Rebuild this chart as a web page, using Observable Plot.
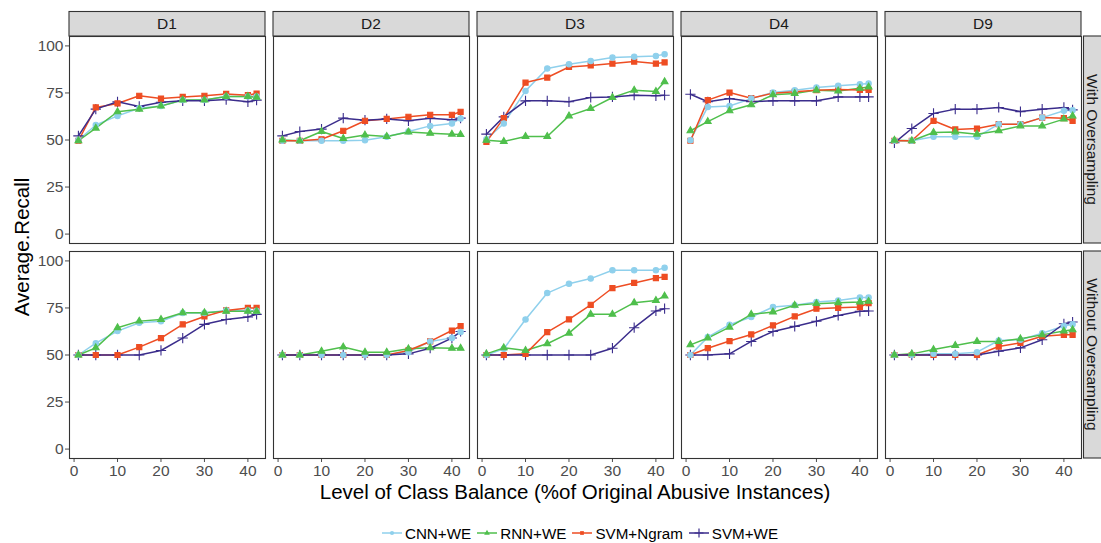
<!DOCTYPE html>
<html><head><meta charset="utf-8">
<script src="https://cdn.jsdelivr.net/npm/d3@7"></script>
<script src="https://cdn.jsdelivr.net/npm/@observablehq/plot@0.6"></script>
<style>
body{margin:0;background:#fff;font-family:"Liberation Sans",Arial,Helvetica,sans-serif}
#wrap{position:relative;width:1101px;height:543px;overflow:hidden}
#ylab{position:absolute;left:22px;top:247px;transform:translate(-50%,-50%) rotate(-90deg);font-size:20.5px;color:#000;white-space:nowrap}
#xlab{position:absolute;left:575px;top:492px;transform:translate(-50%,-50%);font-size:20.5px;color:#000;white-space:nowrap}
#legend{position:absolute;left:59px;width:1042px;top:522px;height:22px;display:flex;justify-content:center;align-items:center;font-size:15.2px;color:#000}
#legend .item{display:flex;align-items:center;margin:0 3px}
#legend svg{margin-right:3px}
</style></head><body>
<div id="wrap"><div id="ylab">Average.Recall</div><div id="xlab">Level of Class Balance (%of Original Abusive Instances)</div><div id="legend"></div></div>
<script>
// ---- data ----
const datasets = ["D1", "D2", "D3", "D4", "D9"];
const conditions = ["With Oversampling", "Without Oversampling"];
const models = ["CNN+WE", "RNN+WE", "SVM+Ngram", "SVM+WE"];
const balanceLevels = [1, 5, 10, 15, 20, 25, 30, 35, 40, 42];
const xTicks = [0, 10, 20, 30, 40];
const yTicks = [0, 25, 50, 75, 100];
const colors = ["#8fd0ec", "#4fbf4c", "#ee4d23", "#3b2d8c"];
const symbols = ["circle", "triangle", "square", "plus"];
const markerRadii = [2.7, 2.5, 2.9, 3.4];

// With Oversampling: rows = CNN+WE, RNN+WE, SVM+Ngram, SVM+WE
const withD1 = [
  [50, 58, 62.8, 66.9, 68.1, 71.2, 71.2, 73.1, 73.1, 73.1],
  [49.6, 56.3, 65, 66.4, 68.1, 71.2, 71.2, 73.1, 73.1, 72.7],
  [49.6, 67.3, 69.4, 73.5, 72, 72.9, 73.5, 74.5, 73.8, 74.7],
  [52.2, 66.4, 70.3, 67.8, 70.1, 70.8, 70.8, 71.5, 70.3, 71.2]];
const withD2 = [
  [49.6, 49.6, 49.6, 49.6, 49.9, 51.7, 54.5, 57.5, 58.8, 61.4],
  [50, 49.6, 54.5, 50.8, 52.6, 51.9, 54.3, 53.6, 53.1, 52.9],
  [49.6, 49.6, 50.4, 54.9, 60.2, 61.2, 62.3, 63.4, 63.4, 65],
  [52.2, 54.5, 55.8, 61.6, 60.5, 61.2, 60.2, 61.6, 60.7, 61.6]];
const withD3 = [
  [50.4, 58.8, 76.1, 88, 90.3, 92, 93.8, 94.3, 94.7, 95.6],
  [49.9, 49.2, 51.9, 51.9, 62.8, 66.7, 72.6, 76.5, 75.8, 81],
  [49, 61.6, 80.5, 83.2, 88.8, 89.6, 90.6, 91.7, 90.6, 91.2],
  [53.1, 62.3, 70.8, 70.8, 70.3, 72.6, 72.9, 73.8, 73.5, 73.8]];
const withD4 = [
  [49.9, 67.6, 68.1, 72, 75.2, 76.5, 77.9, 78.8, 79.6, 80],
  [54.9, 59.8, 65.5, 68.7, 74, 74.7, 76.5, 76.1, 77.5, 78.2],
  [49.6, 71.2, 75.2, 72.2, 74.9, 75.6, 76.5, 76.8, 76.6, 76.6],
  [74.3, 70.3, 72, 70.4, 70.8, 70.8, 70.8, 72.9, 72.9, 72.9]];
const withD9 = [
  [49.6, 49.6, 51.7, 51.7, 51.7, 58.4, 58.4, 61.9, 65.5, 65.8],
  [49.9, 49.6, 54, 54.3, 53.1, 54.9, 57.5, 57.5, 61.1, 62.8],
  [49.6, 49.6, 60.2, 55.6, 56.1, 58.4, 58.4, 61.9, 61.6, 60.2],
  [48.5, 56.1, 64.1, 66.4, 66.4, 67.3, 65.1, 66.4, 67.3, 66]];

// Without Oversampling
const withoutD1 = [
  [50, 56.3, 62.7, 67.1, 67.9, 72.3, 72.3, 73.7, 73.7, 73.4],
  [50, 53.8, 64.5, 68, 68.9, 72.5, 72.5, 73.2, 73.2, 73.2],
  [50, 50, 50, 54.2, 59, 66.3, 70.5, 73.7, 75, 75],
  [50, 50, 50, 50, 52.4, 59, 66.3, 68.9, 70.2, 71.6]];
const withoutD2 = [
  [50, 50, 50, 50, 50, 50, 51.5, 57.2, 59.1, 62.2],
  [50, 50, 52, 54.2, 51.5, 51.5, 53.3, 53.8, 53.6, 53.6],
  [50, 50, 50, 50, 50, 50, 52.4, 57.2, 63, 65.4],
  [50, 50, 50, 50, 50, 50, 50.6, 53.6, 59, 62.5]];
const withoutD3 = [
  [50, 53.3, 68.9, 82.9, 87.9, 90.6, 95, 95, 95, 96.3],
  [50.6, 53.8, 52.4, 56, 61.6, 71.6, 71.6, 77.8, 79, 81.3],
  [50, 50, 50.6, 62.2, 68.9, 76.7, 85.6, 88.3, 90.9, 91.5],
  [50, 50, 50, 50, 50, 50, 53.6, 64.5, 73.4, 74.6]];
const withoutD4 = [
  [50, 59.5, 66.1, 70.2, 75.5, 76.4, 78.2, 79, 80.5, 80.5],
  [55.4, 59, 64.8, 71.6, 72.8, 76.4, 77.3, 77.8, 78.2, 78.5],
  [50, 53.6, 57.4, 60.9, 65.7, 70.5, 74.6, 75.1, 75.5, 77.6],
  [50, 50, 50.6, 57.2, 62.5, 65.2, 67.9, 71, 73.2, 73.4]];
const withoutD9 = [
  [50, 50, 50.6, 50.6, 51.5, 57.7, 58.1, 61.6, 65.4, 66.3],
  [50, 50.6, 52.9, 55.1, 57.2, 57.2, 58.6, 60.7, 62.7, 63.4],
  [50, 50, 50, 50, 50, 54.5, 56.5, 60, 60.7, 60.7],
  [50, 50, 50, 50, 50, 52, 53.8, 58.1, 66.6, 67.5]];

const panels = [
  ["D1", conditions[0], withD1], ["D2", conditions[0], withD2], ["D3", conditions[0], withD3],
  ["D4", conditions[0], withD4], ["D9", conditions[0], withD9],
  ["D1", conditions[1], withoutD1], ["D2", conditions[1], withoutD2], ["D3", conditions[1], withoutD3],
  ["D4", conditions[1], withoutD4], ["D9", conditions[1], withoutD9]];

const rows = [];
for (const [ds, cond, series] of panels)
  series.forEach((vals, mi) => vals.forEach((v, i) =>
    rows.push({dataset: ds, condition: cond, model: models[mi], balance: balanceLevels[i], recall: v, size: markerRadii[mi]})));

// ---- plot ----
const W = 1101, H = 482, mTop = 36, mLeft = 68, mRight = 18.5, mBottom = 24;
const plot = Plot.plot({
  width: W, height: H,
  marginTop: mTop, marginLeft: mLeft, marginRight: mRight, marginBottom: mBottom,
  style: {fontFamily: '"Liberation Sans", Arial, sans-serif', fontSize: "15.5px", color: "#4d4d4d", background: "#fff", overflow: "visible"},
  fx: {domain: datasets, paddingInner: 0.037, paddingOuter: 0, axis: null, label: null},
  fy: {domain: conditions, paddingInner: 0.038, paddingOuter: 0, axis: null, label: null},
  x: {domain: [-1.05, 44.05], ticks: xTicks, tickSize: 4, tickPadding: 2, label: null},
  y: {domain: [-5, 105], ticks: yTicks, tickSize: 4, tickPadding: 2, label: null},
  r: {type: "identity"},
  color: {domain: models, range: colors},
  symbol: {domain: models, range: symbols},
  marks: [
    Plot.line(rows, {x: "balance", y: "recall", fx: "dataset", fy: "condition", z: "model", stroke: "model", strokeWidth: 1.5}),
    Plot.dot(rows, {x: "balance", y: "recall", fx: "dataset", fy: "condition", symbol: "model", fill: "model", stroke: "model", strokeWidth: 1.1, r: "size"}),
    Plot.frame({stroke: "#333", strokeWidth: 1.1})
  ]
});
document.getElementById("wrap").prepend(plot);

// ---- strips drawn from facet scales ----
const svg = d3.select(plot);
const fx = plot.scale("fx"), fy = plot.scale("fy");
const stripH = 24.5;
const g = svg.append("g");
for (const d of datasets) {
  const x0 = fx.apply(d), bw = fx.bandwidth;
  g.append("rect").attr("x", x0).attr("y", mTop - stripH).attr("width", bw).attr("height", stripH)
    .attr("fill", "#d9d9d9").attr("stroke", "#333").attr("stroke-width", 1.1);
  g.append("text").attr("x", x0 + bw / 2).attr("y", mTop - stripH / 2).attr("dy", "0.35em")
    .attr("text-anchor", "middle").attr("fill", "#1a1a1a").attr("font-size", 15.5).text(d);
}
for (const c of conditions) {
  const y0 = fy.apply(c), bh = fy.bandwidth;
  const x0 = W - mRight + 1;
  g.append("rect").attr("x", x0).attr("y", y0).attr("width", mRight + 2).attr("height", bh)
    .attr("fill", "#d9d9d9").attr("stroke", "#333").attr("stroke-width", 1.1);
  g.append("text").attr("transform", `translate(${x0 + (W - x0) / 2},${y0 + bh / 2}) rotate(90)`)
    .attr("dy", "0.35em").attr("text-anchor", "middle").attr("fill", "#1a1a1a").attr("font-size", 15.5).text(c);
}

// ---- legend ----
const leg = d3.select("#legend");
const symMap = {circle: d3.symbolCircle, triangle: d3.symbolTriangle, square: d3.symbolSquare};
models.forEach((m, i) => {
  const it = leg.append("div").attr("class", "item");
  const s = it.append("svg").attr("width", 20).attr("height", 14);
  s.append("line").attr("x1", 0).attr("x2", 20).attr("y1", 7).attr("y2", 7).attr("stroke", colors[i]).attr("stroke-width", 1.5);
  const sym = symbols[i];
  const p = s.append("path").attr("transform", "translate(10,7)");
  if (sym === "plus") p.attr("d", "M-4.5,0H4.5M0,-4.5V4.5").attr("fill", "none").attr("stroke", colors[i]).attr("stroke-width", 1.2);
  else p.attr("d", d3.symbol(symMap[sym], 14)()).attr("fill", colors[i]);
  it.append("span").text(m);
});
</script>
</body></html>
